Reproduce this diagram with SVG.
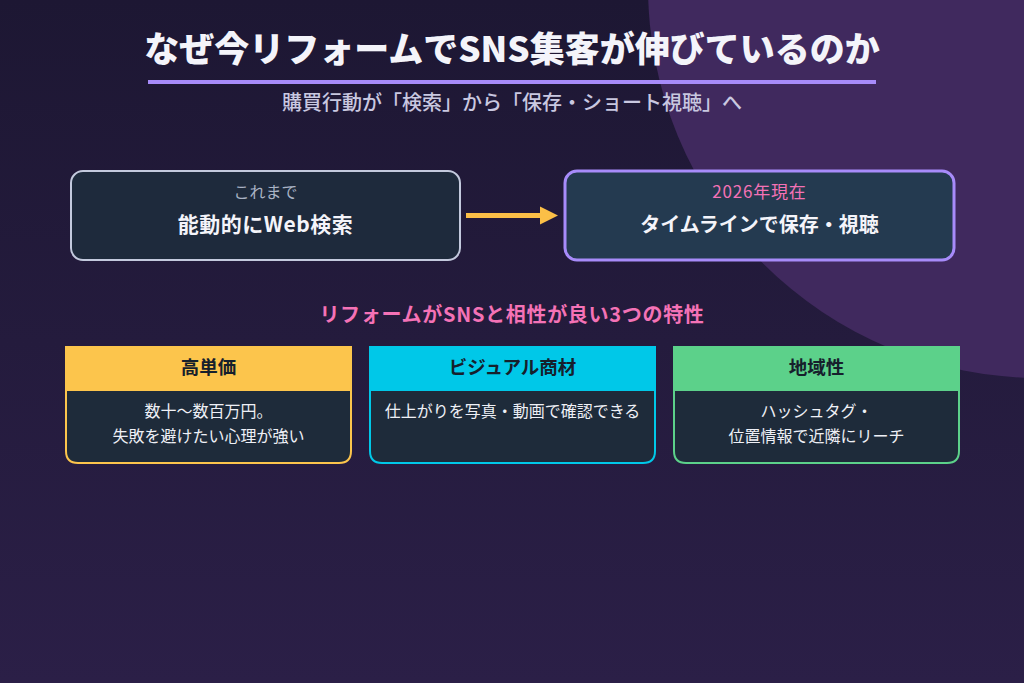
<svg xmlns="http://www.w3.org/2000/svg" width="1024" height="683" viewBox="0 0 1024 683">
  <defs>
    <linearGradient id="bg" x1="0" y1="0" x2="0" y2="1">
      <stop offset="0" stop-color="#1d1733"/>
      <stop offset="1" stop-color="#2b1f47"/>
    </linearGradient>
    <marker id="arrowY" viewBox="0 0 10 10" refX="0" refY="5" markerWidth="3.6" markerHeight="4.8" orient="auto" markerUnits="strokeWidth">
      <path d="M0,0 L10,5 L0,10 Z" fill="#fbbf47"/>
    </marker>
  </defs>
  <style>
    text { font-family: "Noto Sans CJK JP", "Noto Sans", sans-serif; text-anchor: middle; }
    .title { font-size: 35px; font-weight: 900; fill: #f4f4fa; }
    .sub { font-size: 20px; font-weight: 500; fill: #c9c8e0; }
    .small { font-size: 16px; fill: #a9b2c4; }
    .small-pink { font-size: 17px; fill: #f472b6; letter-spacing: 0.8px; }
    .big { font-size: 20px; font-weight: 700; fill: #f4f4fa; }
    .big-wide { font-size: 21px; font-weight: 700; fill: #f4f4fa; letter-spacing: 0.5px; }
    .heading { font-size: 20px; font-weight: 700; fill: #f472b6; letter-spacing: 0.7px; }
    .chead { font-size: 18.5px; font-weight: 700; fill: #16202c; }
    .cbody { font-size: 16px; fill: #eef0f6; }
    .cardbody { fill: #1e2b3a; stroke-width: 2; }
  </style>

  <rect x="0" y="0" width="1024" height="683" fill="url(#bg)"/>
  <circle cx="1040" cy="-14" r="392" fill="#40295e"/>

  <g id="title">
    <text class="title" x="512" y="62">なぜ今リフォームでSNS集客が伸びているのか</text>
    <rect x="148" y="80" width="728" height="4" fill="#a78bfa"/>
    <text class="sub" x="512" y="110">購買行動が「検索」から「保存・ショート視聴」へ</text>
  </g>

  <g id="node-before">
    <rect x="71" y="171" width="389" height="89" rx="12" fill="#1e2a3c" stroke="#c3c9dd" stroke-width="2"/>
    <text class="small" x="265.5" y="198">これまで</text>
    <text class="big-wide" x="265.5" y="232">能動的にWeb検索</text>
  </g>

  <g id="node-now">
    <rect x="565" y="171" width="389" height="89" rx="12" fill="#243a50" stroke="#a78bfa" stroke-width="3"/>
    <text class="small-pink" x="759.5" y="198">2026年現在</text>
    <text class="big" x="759.5" y="232">タイムラインで保存・視聴</text>
  </g>

  <g id="connectors">
    <line x1="466" y1="215.5" x2="540" y2="215.5" stroke="#fbbf47" stroke-width="5" marker-end="url(#arrowY)"/>
  </g>

  <g id="heading">
    <text class="heading" x="512" y="322">リフォームがSNSと相性が良い3つの特性</text>
  </g>

  <g id="card-price">
    <path d="M66,347 H351 V451 Q351,463 339,463 H78 Q66,463 66,451 Z" class="cardbody" stroke="#fcc54c"/>
    <rect x="65" y="346" width="287" height="45" fill="#fcc54c"/>
    <text class="chead" x="208.5" y="374">高単価</text>
    <text class="cbody" x="208.5" y="417">数十〜数百万円。</text>
    <text class="cbody" x="208.5" y="442">失敗を避けたい心理が強い</text>
  </g>

  <g id="card-visual">
    <path d="M370,347 H655 V451 Q655,463 643,463 H382 Q370,463 370,451 Z" class="cardbody" stroke="#00c8e8"/>
    <rect x="369" y="346" width="287" height="45" fill="#00c8e8"/>
    <text class="chead" x="512.5" y="374">ビジュアル商材</text>
    <text class="cbody" x="512.5" y="417">仕上がりを写真・動画で確認できる</text>
  </g>

  <g id="card-local">
    <path d="M674,347 H959 V451 Q959,463 947,463 H686 Q674,463 674,451 Z" class="cardbody" stroke="#5cd18a"/>
    <rect x="673" y="346" width="287" height="45" fill="#5cd18a"/>
    <text class="chead" x="816.5" y="374">地域性</text>
    <text class="cbody" x="816.5" y="417">ハッシュタグ・</text>
    <text class="cbody" x="816.5" y="442">位置情報で近隣にリーチ</text>
  </g>
</svg>
